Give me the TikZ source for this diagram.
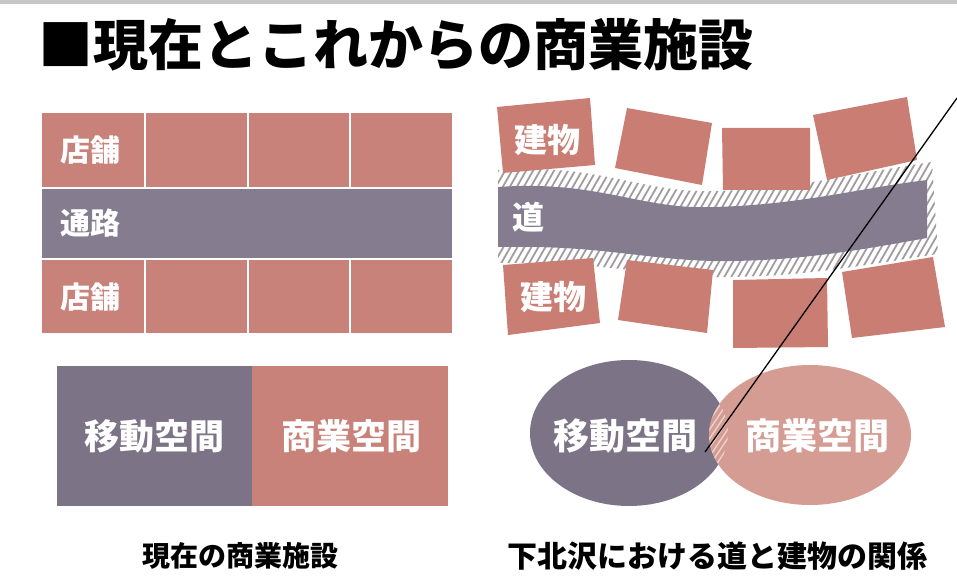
\documentclass[tikz,border=0pt]{standalone}
\usepackage{fontspec}
\setmainfont{Noto Sans CJK JP}
\newfontfamily\cjk{Noto Sans CJK JP}
\definecolor{pk}{HTML}{C8827A}
\definecolor{bldg}{HTML}{C97D73}
\definecolor{rd}{HTML}{857D8F}
\definecolor{rdb}{HTML}{7C7386}
\definecolor{pkl}{HTML}{D49C93}
\definecolor{hatch}{HTML}{A09CA0}
\begin{document}
\begin{tikzpicture}[x=1pt,y=-1pt,
  lbl/.style={text=white,inner sep=0,font=\cjk\bfseries\fontsize{#1}{#1}\selectfont},
  cap/.style={text=black,inner sep=0,font=\cjk\bfseries\fontsize{#1}{#1}\selectfont}]
\useasboundingbox (0,0) rectangle (957,585);
\fill[white] (0,0) rectangle (957,585);
\fill[gray!45] (0,0) rectangle (957,4);
% title
\node[anchor=west,inner sep=0,font=\cjk\bfseries\fontsize{55}{55}\selectfont] (title) at (38,45) {■現在とこれからの商業施設};
% left grid
\fill[pk] (42,113) rectangle (452,187);
\fill[rd] (42,189) rectangle (452,258);
\fill[pk] (42,260) rectangle (452,333);
\foreach \x in {145,248,350}{
  \draw[white,line width=2] (\x,113) -- (\x,187);
  \draw[white,line width=2] (\x,260) -- (\x,333);
}
\node[lbl=30] (s1) at (90,150) {店舗};
\node[lbl=30] (r1) at (90,223) {通路};
\node[lbl=30] (s2) at (90,297) {店舗};
% bottom-left box
\fill[rdb] (57,366) rectangle (252,506);
\fill[pk] (252,366) rectangle (448,506);
\node[lbl=35] (m1) at (154,436) {移動空間};
\node[lbl=35] (c1) at (351,436) {商業空間};
\node[cap=28] (cap1) at (240,556) {現在の商業施設};
% right: hatched edges
\begin{scope}
\clip (498,170) .. controls (600,163) and (640,193) .. (713,191)
  .. controls (800,189) and (860,172) .. (932,162)
  -- (938,254) .. controls (870,264) and (800,278) .. (713,277)
  .. controls (640,275) and (600,261) .. (498,263) -- cycle;
\foreach \i in {0,...,80}{
  \draw[hatch,line width=1.8] (420+\i*7,295) -- ++(80,-140);
}
\end{scope}
% buildings
\fill[bldg] (497,107) -- (590,98) -- (595,165) -- (503,173) -- cycle;
\fill[bldg] (627,108) -- (712,123) -- (702,185) -- (615,168) -- cycle;
\fill[bldg] (722,128) -- (810,128) -- (810,190) -- (723,190) -- cycle;
\fill[bldg] (813,115) -- (907,97) -- (917,160) -- (827,180) -- cycle;
\fill[bldg] (503,265) -- (593,258) -- (600,323) -- (508,335) -- cycle;
\fill[bldg] (627,260) -- (713,270) -- (707,333) -- (618,320) -- cycle;
\fill[bldg] (733,280) -- (827,278) -- (828,347) -- (733,348) -- cycle;
\fill[bldg] (842,272) -- (933,257) -- (945,327) -- (852,338) -- cycle;
% road
\fill[rd] (498,187) .. controls (600,180) and (640,210) .. (713,207)
  .. controls (800,205) and (860,188) .. (927,180)
  -- (927,238) .. controls (870,248) and (800,262) .. (713,261)
  .. controls (640,259) and (600,245) .. (498,247) -- cycle;
\node[lbl=33] (b1) at (547,140) {建物};
\node[lbl=32] (d1) at (528,217) {道};
\node[lbl=33] (b2) at (553,297) {建物};
% ellipses
\fill[rdb] (629,433) ellipse [x radius=99,y radius=73];
\fill[pkl] (810,435) ellipse [x radius=101,y radius=70];
\begin{scope}
\clip (629,433) ellipse [x radius=99,y radius=73];
\clip (810,435) ellipse [x radius=101,y radius=70];
\fill[pkl] (690,360) rectangle (750,510);
\foreach \i in {0,...,9}{
  \draw[white,opacity=0.55,line width=1.3] (670+\i*6,480) -- ++(50,-75);
}
\end{scope}
\node[lbl=36] (m2) at (625,436) {移動空間};
\node[lbl=36] (c2) at (817,436) {商業空間};
% diagonal line
\coordinate (ltop) at (957,98);
\coordinate (lend) at (705,452);
\draw[black,line width=1.3] (ltop) -- (lend);
\node[cap=30] (cap2) at (717,556) {下北沢における道と建物の関係};
\end{tikzpicture}
\end{document}
